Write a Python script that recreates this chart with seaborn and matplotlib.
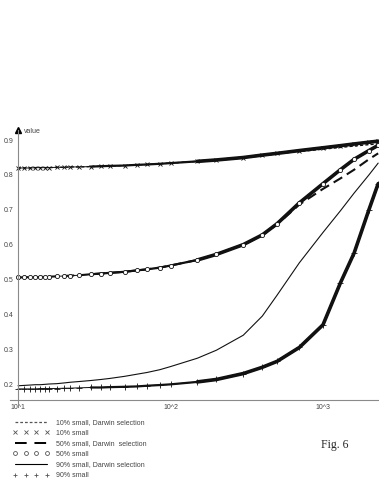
import numpy as np
import pandas as pd
import matplotlib.pyplot as plt
import seaborn as sns
from matplotlib.lines import Line2D

sns.set_style("white")
plt.rcParams['font.family'] = ['Liberation Sans', 'DejaVu Sans']

## values (x = population size on log axis)
grid = [10, 11, 12, 13, 14, 15, 16, 18, 20, 22, 25, 30, 35, 40, 50, 60, 70, 85,
        100, 150, 200, 300, 400, 500, 700, 1000, 1300, 1600, 2000, 2300]

s10 = [.820, .820, .820, .821, .821, .821, .821, .822, .822, .823, .823, .824, .825, .826,
       .827, .829, .830, .832, .834, .839, .843, .850, .857, .862, .870, .878, .884, .889,
       .894, .897]
s10_darwin = [.820, .820, .820, .821, .821, .821, .821, .822, .822, .823, .823, .824, .825, .826,
              .827, .829, .830, .832, .834, .839, .843, .849, .855, .861, .867, .874, .879, .883,
              .887, .889]
s50 = [.506, .506, .507, .507, .507, .508, .508, .509, .510, .511, .512, .515, .517, .519,
       .522, .526, .529, .534, .540, .556, .572, .600, .628, .660, .720, .775, .815, .845,
       .870, .885]
s50_darwin = [.506, .506, .507, .507, .507, .508, .508, .509, .510, .511, .512, .515, .517, .519,
              .522, .526, .529, .534, .540, .556, .572, .600, .627, .658, .715, .760, .790, .815,
              .845, .862]
s90 = [.186, .186, .186, .186, .187, .187, .187, .187, .188, .188, .189, .190, .190, .191,
       .192, .193, .195, .197, .199, .206, .213, .230, .248, .265, .305, .370, .490, .576,
       .700, .775]
s90_darwin = [.195, .196, .197, .198, .198, .199, .200, .201, .203, .205, .207, .210, .213, .216,
              .222, .228, .233, .241, .250, .274, .297, .340, .395, .455, .548, .635, .697, .748,
              .800, .834]

labels = ["10% small, Darwin selection", "10% small",
          "50% small, Darwin  selection", "50% small",
          "90% small, Darwin selection", "90% small"]
xticks = [10, 100, 1000]
xticklabels = ["10^1", "10^2", "10^3"]
yticks = [0.2, 0.3, 0.4, 0.5, 0.6, 0.7, 0.8, 0.9]

df = pd.DataFrame({'x': grid, 's10': s10, 's10d': s10_darwin, 's50': s50,
                   's50d': s50_darwin, 's90': s90, 's90d': s90_darwin})
## where the markers pile up into a solid band
mid = df[df['x'] >= 30]
dense = df[df['x'] >= 150]

fig = plt.figure(figsize=(3.79, 4.91), dpi=100)
ax = fig.add_axes([10/379, 1-407/491, 369/379, 277/491])
ax.set_xscale('log')

dotted = (0, (2.2, 1.6))
dashed = (0, (4.8, 2.6))
ink = '#111111'

## Darwin selection lines
sns.lineplot(data=df, x='x', y='s10d', ax=ax, color=ink, lw=1, linestyle=dotted, estimator=None)
sns.lineplot(data=df, x='x', y='s50d', ax=ax, color=ink, lw=1.5, linestyle=dashed, estimator=None)
sns.lineplot(data=df, x='x', y='s90d', ax=ax, color=ink, lw=0.8, estimator=None)

## marker series: markers + band where markers overlap
for col, mk, ms in [('s10', 'x', 3.0), ('s50', 'o', 3.0), ('s90', '+', 4.0)]:
    sns.lineplot(data=mid, x='x', y=col, ax=ax, color=ink, lw=1.6, estimator=None)
    sns.lineplot(data=dense, x='x', y=col, ax=ax, color=ink, lw=2.6, estimator=None)
    sns.lineplot(data=df, x='x', y=col, ax=ax, color=ink, lw=0.7, estimator=None,
                 marker=mk, markersize=ms, markerfacecolor='white', markeredgecolor=ink,
                 markeredgewidth=0.6)

ax.set_xlim(10**(1-8/152.5), 10**(1+361/152.5))
ax.set_ylim(0.134, 0.929)

axcol = '#8a8a8a'
for side in ['top', 'right']:
    ax.spines[side].set_visible(False)
ax.spines['left'].set_position(('data', 10))
ax.spines['bottom'].set_position(('data', 0.154))
for side in ['left', 'bottom']:
    ax.spines[side].set_color(axcol)
    ax.spines[side].set_linewidth(0.8)

ax.set_xticks(xticks)
ax.set_xticklabels(xticklabels)
ax.xaxis.set_minor_locator(plt.NullLocator())
ax.set_yticks(yticks)
ax.set_yticklabels([str(t) for t in yticks])
ax.tick_params(axis='both', direction='inout', length=3, width=0.7, color=axcol,
               labelsize=5, labelcolor='#444444', pad=1.5)
ax.set_xlabel('')
ax.set_ylabel('')

## arrow head + axis name
ax.plot([10], [0.929], marker='^', color='black', ms=4.5, clip_on=False)
ax.annotate('value', xy=(10, 0.929), xytext=(4.5, -1), textcoords='offset points',
            fontsize=5, color='#444444', va='center', ha='left')

lg = '#555555'
handles = [Line2D([], [], color=lg, lw=0.9, linestyle=dotted),
           Line2D([], [], color=lg, linestyle='None', marker='x', ms=2.8, mew=0.6),
           Line2D([], [], color='black', lw=1.4, linestyle=(0, (6, 4))),
           Line2D([], [], color=lg, linestyle='None', marker='o', ms=2.8, mfc='white', mew=0.6),
           Line2D([], [], color='black', lw=0.8),
           Line2D([], [], color=lg, linestyle='None', marker='+', ms=3.5, mew=0.6)]
fig.legend(handles, labels, loc='upper left', bbox_to_anchor=(13/379, 1-419/491),
           frameon=False, fontsize=5, numpoints=4, handlelength=5.2, handletextpad=1.0,
           labelspacing=0.52, borderaxespad=0, borderpad=0, labelcolor='#444444')

fig.text(335/379, 1-445/491, 'Fig. 6', family='Liberation Serif', fontsize=8.5,
         ha='center', va='center')

plt.savefig('out.png', dpi=100)
